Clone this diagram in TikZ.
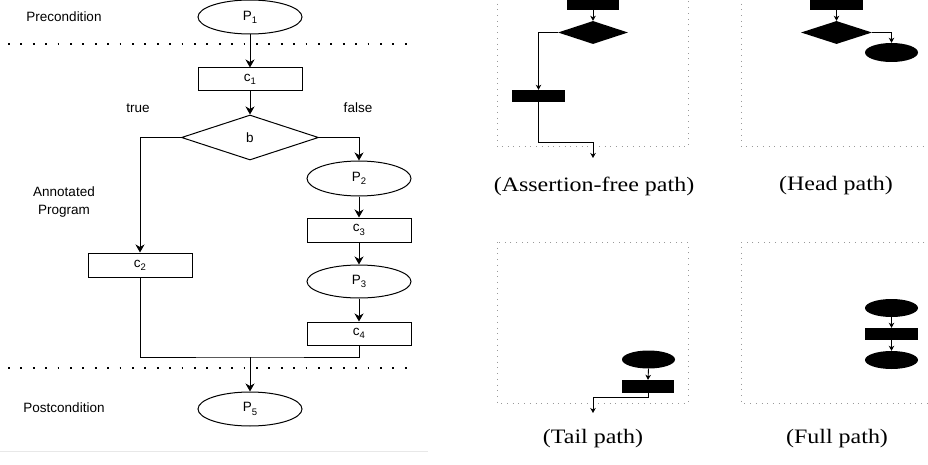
\documentclass[tikz,border=0pt]{standalone}
\usepackage{fontspec}
\newfontfamily\lsans{Liberation Sans}
\newfontfamily\capfont[FakeStretch=1.17]{Liberation Serif}
\usetikzlibrary{shapes.geometric,arrows.meta}
\newcommand\sbs[1]{\raisebox{-0.45ex}{\fontsize{9.5}{10}\selectfont #1}}
\tikzset{
  x=1pt, y=-1pt,
  lbl/.style={font=\lsans\fontsize{13.5}{18}\selectfont, inner sep=0pt, align=center},
  box/.style={draw, line width=1pt, rectangle, minimum width=104pt, minimum height=23pt, inner sep=0pt, font=\lsans\fontsize{13.5}{16}\selectfont},
  ell/.style={draw, line width=1pt, ellipse, minimum width=104pt, minimum height=34pt, inner sep=0pt, font=\lsans\fontsize{13.5}{16}\selectfont},
  dia/.style={draw, line width=1pt, diamond, minimum width=137pt, minimum height=45pt, inner sep=0pt, aspect=3.04, font=\lsans\fontsize{13.5}{16}\selectfont},
  arr/.style={line width=1pt, -{Stealth[length=8pt,width=9pt,inset=2.5pt]}},
  conn/.style={line width=1pt},
  sepline/.style={line width=1.8pt, dash pattern=on 1.8pt off 10.6pt},
  pborder/.style={line width=1pt, gray!80, dash pattern=on 1pt off 4.7pt},
  bbox/.style={fill=black, draw=none, rectangle, inner sep=0pt},
  bell/.style={fill=black, draw=none, ellipse, inner sep=0pt},
  bdia/.style={fill=black, draw=none, diamond, inner sep=0pt},
  sarr/.style={line width=0.9pt, -{Stealth[length=5pt,width=5.5pt,inset=1.5pt]}},
  sconn/.style={line width=0.9pt},
  captxt/.style={font=\capfont\fontsize{20.5}{23}\selectfont, inner sep=0pt},
}
\begin{document}
\begin{tikzpicture}
\useasboundingbox (0,0) rectangle (928,465);
\clip (0,0) rectangle (928,465);

% ---------- left diagram ----------
\node[lbl] (pre) at (64,17) {Precondition};
\node[lbl] (ann) at (64,202) {Annotated\\Program};
\node[lbl] (post) at (64,408) {Postcondition};
\node[lbl] (tr) at (138,108) {true};
\node[lbl] (fa) at (358,108) {false};

\draw[sepline] (8,44) -- (416,44);
\draw[sepline] (8,368) -- (416,368);
\draw[gray!18, line width=0.7pt] (0,451) -- (428,451);

\node[ell] (P1) at (250,17) {P\sbs{1}};
\node[box] (c1) at (250,79.5) {c\sbs{1}};
\node[dia] (b) at (250,137.5) {b};
\node[ell, minimum height=35pt] (P2) at (359,178.5) {P\sbs{2}};
\node[box, minimum height=24pt] (c3) at (359,230) {c\sbs{3}};
\node[ell, minimum height=33pt] (P3) at (359,281.5) {P\sbs{3}};
\node[box] (c4) at (359,333.5) {c\sbs{4}};
\node[box, minimum height=24pt] (c2) at (140,265) {c\sbs{2}};
\node[ell] (P5) at (250,409) {P\sbs{5}};
\coordinate (m) at (250,357);

\draw[arr] (P1.south) -- (c1.north);
\draw[arr] (c1.south) -- (b.north);
\draw[arr] (b.west) -| (c2.north);
\draw[arr] (b.east) -| (P2.north);
\draw[arr] (P2.south) -- (c3.north);
\draw[arr] (c3.south) -- (P3.north);
\draw[arr] (P3.south) -- (c4.north);
\draw[conn] (c2.south) |- (m) -| (c4.south);
\draw[arr] (m) -- (P5.north);

% ---------- panel 1: assertion-free path ----------
\draw[pborder] (497,-2) -- (497,147) -- (688,147) -- (688,-2);
\node[bbox, minimum width=52pt, minimum height=14pt] (r1) at (593,3) {};
\node[bdia, minimum width=70pt, minimum height=23pt, aspect=3.04] (d1) at (593,32.5) {};
\node[bbox, minimum width=53pt, minimum height=12pt] (r2) at (538.5,96) {};
\coordinate (a1) at (593,142);
\coordinate (a2) at (593,158);
\draw[sarr] (r1.south) -- (d1.north);
\draw[sarr] (d1.west) -| (r2.north);
\draw[sarr] (r2.south) |- (a1) -- (a2);
\node[captxt] (cap1) at (594,186) {(Assertion-free path)};

% ---------- panel 2: head path ----------
\draw[pborder] (741,-2) -- (741,147) -- (930,147);
\node[bbox, minimum width=53pt, minimum height=14pt] (r3) at (836.5,3) {};
\node[bdia, minimum width=71pt, minimum height=23pt, aspect=3.08] (d2) at (836.5,32.5) {};
\node[bell, minimum width=53pt, minimum height=19pt] (e1) at (891.5,52.5) {};
\draw[sarr] (r3.south) -- (d2.north);
\draw[sarr] (d2.east) -| (e1.north);
\node[captxt] (cap2) at (836,186) {(Head path)};

% ---------- panel 3: tail path ----------
\draw[pborder] (497,242) rectangle (688,403);
\node[bell, minimum width=53pt, minimum height=18pt] (e2) at (648.5,359.5) {};
\node[bbox, minimum width=52pt, minimum height=13pt] (r4) at (648,386.5) {};
\coordinate (t1) at (593,397);
\coordinate (t2) at (593,413);
\draw[sarr] (e2.south) -- (r4.north);
\draw[sarr] (r4.south) |- (t1) -- (t2);
\node[captxt] (cap3) at (593,439) {(Tail path)};

% ---------- panel 4: full path ----------
\draw[pborder] (930,242) -- (741,242) -- (741,403) -- (930,403);
\node[bell, minimum width=53pt, minimum height=18pt] (e3) at (891.5,308) {};
\node[bbox, minimum width=53pt, minimum height=12pt] (r5) at (891.5,334) {};
\node[bell, minimum width=53pt, minimum height=18pt] (e4) at (891.5,360) {};
\draw[sarr] (e3.south) -- (r5.north);
\draw[sarr] (r5.south) -- (e4.north);
\node[captxt] (cap4) at (837,439) {(Full path)};
\end{tikzpicture}
\end{document}
